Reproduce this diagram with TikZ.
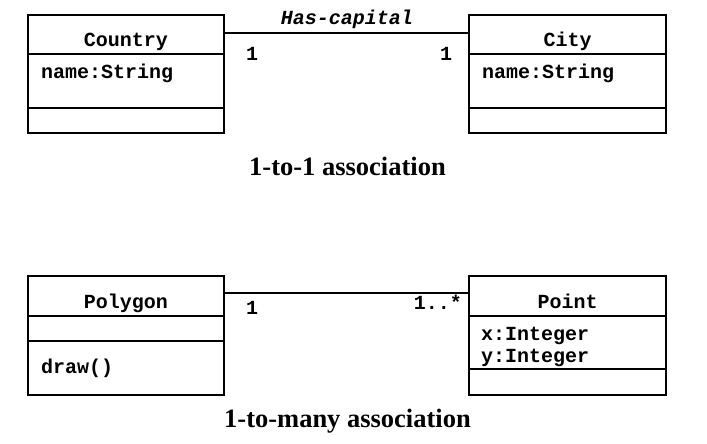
\documentclass[tikz,border=0pt]{standalone}
\usepackage{fontspec}
\setmainfont{Liberation Serif}
\setmonofont{Liberation Mono}
\begin{document}
\begin{tikzpicture}[x=1pt,y=-1pt,
  box/.style={draw, line width=2.6pt},
  divider/.style={line width=2.6pt},
  assoc/.style={line width=2pt},
  mono/.style={inner sep=0pt, font=\fontsize{20}{22}\selectfont\ttfamily\bfseries},
  caption/.style={inner sep=0pt, font=\fontsize{26.5}{30}\selectfont\bfseries}]
\useasboundingbox (0,0) rectangle (707,444);
% Country
\node[box, minimum width=196pt, minimum height=118pt, inner sep=0pt] (country) at (126,74) {};
\draw[divider] (28,54) -- (224,54);
\draw[divider] (28,108) -- (224,108);
\node[mono, anchor=base] (countryname) at (126,47) {Country};
\node[mono, anchor=base west] (countryattr) at (41,79) {name:String};
% City
\node[box, minimum width=197pt, minimum height=118pt, inner sep=0pt] (city) at (567.5,74) {};
\draw[divider] (469,54) -- (666,54);
\draw[divider] (469,108) -- (666,108);
\node[mono, anchor=base] (cityname) at (567.5,47) {City};
\node[mono, anchor=base west] (cityattr) at (482,79) {name:String};
% association 1
\coordinate (c1) at (224,33);
\coordinate (c2) at (469,33);
\draw[assoc] (c1) -- (c2);
\node[mono, anchor=base, font=\fontsize{20}{22}\selectfont\ttfamily\bfseries\itshape] (hascap) at (347,25) {Has-capital};
\node[mono, anchor=base] (m1) at (252,61) {1};
\node[mono, anchor=base] (m2) at (446,61) {1};
\node[caption, anchor=base] (cap1) at (347.5,175) {1-to-1 association};
% Polygon
\node[box, minimum width=196pt, minimum height=119pt, inner sep=0pt] (polygon) at (126,335.5) {};
\draw[divider] (28,316) -- (224,316);
\draw[divider] (28,341) -- (224,341);
\node[mono, anchor=base] (polyname) at (126,308) {Polygon};
\node[mono, anchor=base west] (polyop) at (41,373) {draw()};
% Point
\node[box, minimum width=197pt, minimum height=119pt, inner sep=0pt] (point) at (567.5,335.5) {};
\draw[divider] (469,316) -- (666,316);
\draw[divider] (469,369) -- (666,369);
\node[mono, anchor=base] (pointname) at (567.5,308) {Point};
\node[mono, anchor=base west] (pointx) at (481,340) {x:Integer};
\node[mono, anchor=base west] (pointy) at (481,362) {y:Integer};
% association 2
\coordinate (p1) at (224,293);
\coordinate (p2) at (469,293);
\draw[assoc] (p1) -- (p2);
\node[mono, anchor=base] (m3) at (252,314) {1};
\node[mono, anchor=base east] (m4) at (462,309) {1..*};
\node[caption, anchor=base] (cap2) at (347.5,427) {1-to-many association};
\end{tikzpicture}
\end{document}
